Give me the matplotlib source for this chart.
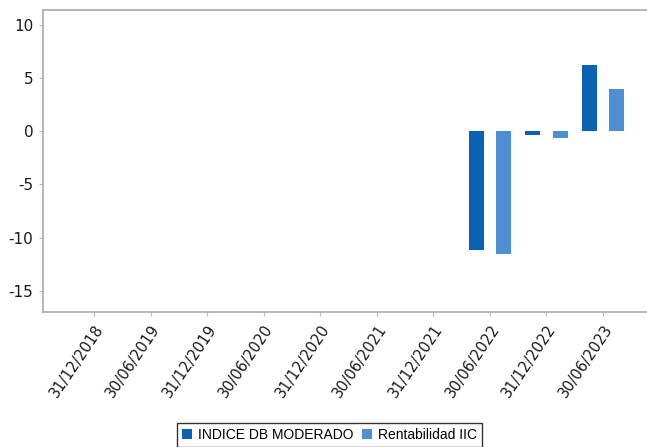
import matplotlib.pyplot as plt
import numpy as np

# period end dates shown on the x axis
fechas = ['31/12/2018', '30/06/2019', '31/12/2019', '30/06/2020', '31/12/2020',
          '30/06/2021', '31/12/2021', '30/06/2022', '31/12/2022', '30/06/2023']

# half-year returns (%), no data before 2022
indice_db = [np.nan, np.nan, np.nan, np.nan, np.nan, np.nan, np.nan, -11.2, -0.35, 6.2]
rentabilidad_iic = [np.nan, np.nan, np.nan, np.nan, np.nan, np.nan, np.nan, -11.5, -0.65, 4.0]

color_indice = '#0a62b4'
color_iic = '#4c8fd2'

plt.rcParams['font.family'] = 'DejaVu Sans'

fig = plt.figure(figsize=(6.47, 4.47), dpi=100)
ax = fig.add_axes([0.0665, 0.302, 0.945, 0.6756])

x = np.arange(len(fechas))
ancho = 0.265
ax.bar(x - 0.245, indice_db, ancho, color=color_indice, label='INDICE DB MODERADO')
ax.bar(x + 0.245, rentabilidad_iic, ancho, color=color_iic, label='Rentabilidad IIC')

ax.set_xlim(-0.903, 9.91)
ax.set_ylim(-17.0, 11.4)
ax.set_yticks([10, 5, 0, -5, -10, -15])
ax.set_yticklabels(['10', '5', '0', '-5', '-10', '-15'], fontsize=11)
ax.set_xticks(x)
ax.set_xticklabels(fechas, rotation=56, ha='right', rotation_mode='anchor', fontsize=10.5)

# light grey frame, no right border
for lado in ['left', 'bottom', 'top']:
    ax.spines[lado].set_color('#aaaaaa')
    ax.spines[lado].set_linewidth(1.2)
ax.spines['right'].set_visible(False)
ax.tick_params(axis='both', colors='#bbbbbb', length=3, width=0.8, pad=4)
for t in ax.get_xticklabels() + ax.get_yticklabels():
    t.set_color('#1a1a1a')

leg = fig.legend(loc='upper center', bbox_to_anchor=(0.509, 0.054), ncol=2,
                 frameon=True, fancybox=False, edgecolor='black',
                 prop={'family': 'Liberation Sans', 'size': 10},
                 handlelength=0.75, handleheight=0.75, handletextpad=0.4,
                 columnspacing=0.6, borderpad=0.35, borderaxespad=0)
leg.get_frame().set_linewidth(1.0)

fig.savefig('out.png', dpi=100)
